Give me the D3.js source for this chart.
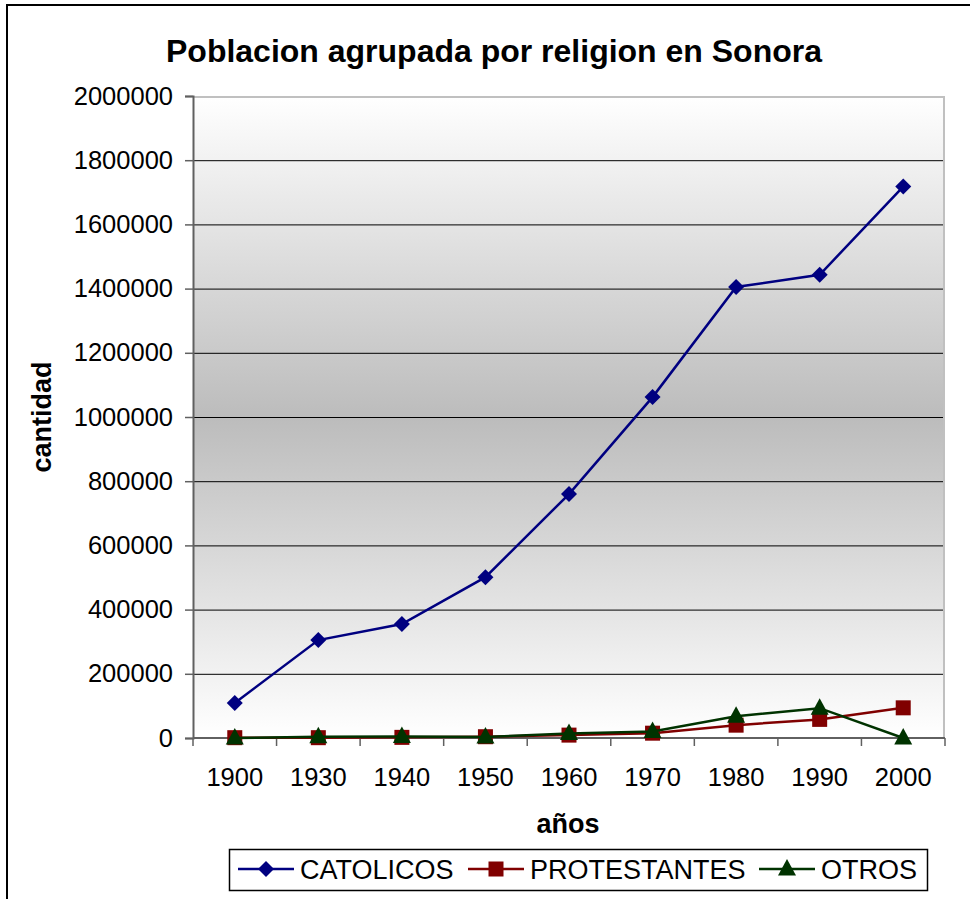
<!DOCTYPE html>
<html>
<head>
<meta charset="utf-8">
<script src="https://cdn.jsdelivr.net/npm/d3@7"></script>
<style>
  body { margin: 0; background: #fff; }
  svg text { font-family: "Liberation Sans", Arial, sans-serif; fill: #000; }
</style>
</head>
<body>
<div id="chart"></div>
<script>
// data
var years = ["1900", "1930", "1940", "1950", "1960", "1970", "1980", "1990", "2000"];
var catolicos    = [109000, 305000, 355000, 501000, 760000, 1062000, 1405000, 1443000, 1718000];
var protestantes = [1000, 1000, 2000, 4000, 9000, 15000, 40000, 58000, 94000];
var otros        = [0, 4000, 5000, 3000, 14000, 20000, 68000, 93000, 0];
var yTicks = [0, 200000, 400000, 600000, 800000, 1000000, 1200000, 1400000, 1600000, 1800000, 2000000];

var series = [
  { name: "CATOLICOS",    values: catolicos,    color: "#000080", marker: "diamond" },
  { name: "PROTESTANTES", values: protestantes, color: "#800000", marker: "square" },
  { name: "OTROS",        values: otros,        color: "#003300", marker: "triangle" }
];

var W = 970, H = 899;
var plot = { left: 193, top: 96, right: 945, bottom: 738 };

var svg = d3.select("#chart").append("svg")
  .attr("width", W).attr("height", H);

// outer chart border (only top/left visible)
svg.append("path")
  .attr("d", "M7," + H + "V5H" + W)
  .attr("fill", "none").attr("stroke", "#000").attr("stroke-width", 2);

var defs = svg.append("defs");
var grad = defs.append("linearGradient")
  .attr("id", "bg").attr("x1", 0).attr("y1", 0).attr("x2", 0).attr("y2", 1);
grad.append("stop").attr("offset", "0%").attr("stop-color", "#ffffff");
grad.append("stop").attr("offset", "50%").attr("stop-color", "#bcbcbc");
grad.append("stop").attr("offset", "100%").attr("stop-color", "#ffffff");

var x = d3.scaleBand().domain(years).range([plot.left, plot.right]).paddingInner(0).paddingOuter(0);
var y = d3.scaleLinear().domain([0, 2000000]).range([plot.bottom, plot.top]);

svg.append("rect")
  .attr("x", plot.left).attr("y", plot.top)
  .attr("width", plot.right - plot.left).attr("height", plot.bottom - plot.top)
  .attr("fill", "url(#bg)");

// gridlines
svg.append("g").selectAll("line")
  .data(yTicks.filter(function(d){ return d > 0 && d < 2000000; }))
  .enter().append("line")
  .attr("x1", plot.left).attr("x2", plot.right)
  .attr("y1", function(d){ return y(d) + 0.5; }).attr("y2", function(d){ return y(d) + 0.5; })
  .attr("stroke", "#000").attr("stroke-width", 1);

// plot border top/right (gray)
svg.append("path")
  .attr("d", "M" + plot.left + "," + (plot.top + 1) + "H" + (plot.right - 1) + "V" + plot.bottom)
  .attr("fill", "none").attr("stroke", "#c0c0c0").attr("stroke-width", 2);

// y axis
var yAxis = svg.append("g")
  .attr("transform", "translate(" + plot.left + ",0)")
  .call(d3.axisLeft(y).tickValues(yTicks).tickSize(8).tickPadding(12).tickFormat(d3.format("d")));
yAxis.select(".domain").attr("stroke", "#606060").attr("stroke-width", 2);
yAxis.selectAll(".tick line").attr("stroke", "#606060").attr("stroke-width", 1.5);
yAxis.selectAll("text")
  .style("font-size", "25.5px").style("font-family", "Liberation Sans, Arial, sans-serif")
  .attr("fill", "#000");

// x axis with ticks between categories
var xg = svg.append("g").attr("transform", "translate(0," + plot.bottom + ")");
xg.append("line")
  .attr("x1", plot.left).attr("x2", plot.right)
  .attr("stroke", "#606060").attr("stroke-width", 2);
var bounds = years.map(function(d){ return x(d); }).concat([plot.right]);
xg.selectAll("line.tk").data(bounds).enter().append("line")
  .attr("class", "tk")
  .attr("x1", function(d){ return d; }).attr("x2", function(d){ return d; })
  .attr("y1", 0).attr("y2", 8)
  .attr("stroke", "#606060").attr("stroke-width", 1.5);
xg.selectAll("text").data(years).enter().append("text")
  .attr("x", function(d){ return x(d) + x.bandwidth() / 2; })
  .attr("y", 48)
  .attr("text-anchor", "middle")
  .style("font-size", "25.5px")
  .text(function(d){ return d; });

// title and axis titles
svg.append("text")
  .attr("x", 494).attr("y", 62).attr("text-anchor", "middle")
  .attr("textLength", 656).attr("lengthAdjust", "spacingAndGlyphs")
  .style("font-size", "32px").style("font-weight", "bold")
  .text("Poblacion agrupada por religion en Sonora");

svg.append("text")
  .attr("x", 568).attr("y", 833).attr("text-anchor", "middle")
  .style("font-size", "27px").style("font-weight", "bold")
  .text("años");

svg.append("text")
  .attr("transform", "translate(51,417) rotate(-90)")
  .attr("text-anchor", "middle")
  .style("font-size", "27px").style("font-weight", "bold")
  .text("cantidad");

// markers
function drawMarker(g, type, cx, cy, color) {
  if (type === "diamond") {
    g.append("path")
      .attr("d", "M" + cx + "," + (cy - 8) + "L" + (cx + 8) + "," + cy + "L" + cx + "," + (cy + 8) + "L" + (cx - 8) + "," + cy + "Z")
      .attr("fill", color);
  } else if (type === "square") {
    g.append("rect")
      .attr("x", cx - 7.5).attr("y", cy - 7.5).attr("width", 15).attr("height", 15)
      .attr("fill", color);
  } else {
    g.append("path")
      .attr("d", "M" + cx + "," + (cy - 10) + "L" + (cx + 9) + "," + (cy + 6.5) + "L" + (cx - 9) + "," + (cy + 6.5) + "Z")
      .attr("fill", color);
  }
}

var line = d3.line()
  .x(function(d, i){ return x(years[i]) + x.bandwidth() / 2; })
  .y(function(d){ return y(d); });

series.forEach(function(s) {
  var g = svg.append("g");
  g.append("path")
    .attr("d", line(s.values))
    .attr("fill", "none").attr("stroke", s.color).attr("stroke-width", 2.5);
  s.values.forEach(function(v, i) {
    drawMarker(g, s.marker, x(years[i]) + x.bandwidth() / 2, y(v), s.color);
  });
});

// legend
var lg = svg.append("g");
lg.append("rect")
  .attr("x", 229.5).attr("y", 849.5).attr("width", 698).attr("height", 41)
  .attr("fill", "#fff").attr("stroke", "#000").attr("stroke-width", 1.5);
var legendX = [238, 468, 759];
series.forEach(function(s, i) {
  var lx = legendX[i], ly = 869;
  lg.append("line")
    .attr("x1", lx).attr("x2", lx + 56).attr("y1", ly).attr("y2", ly)
    .attr("stroke", s.color).attr("stroke-width", 2.5);
  drawMarker(lg, s.marker, lx + 28, ly, s.color);
  lg.append("text")
    .attr("x", lx + 62).attr("y", ly + 10)
    .style("font-size", "27px")
    .text(s.name);
});
</script>
</body>
</html>
